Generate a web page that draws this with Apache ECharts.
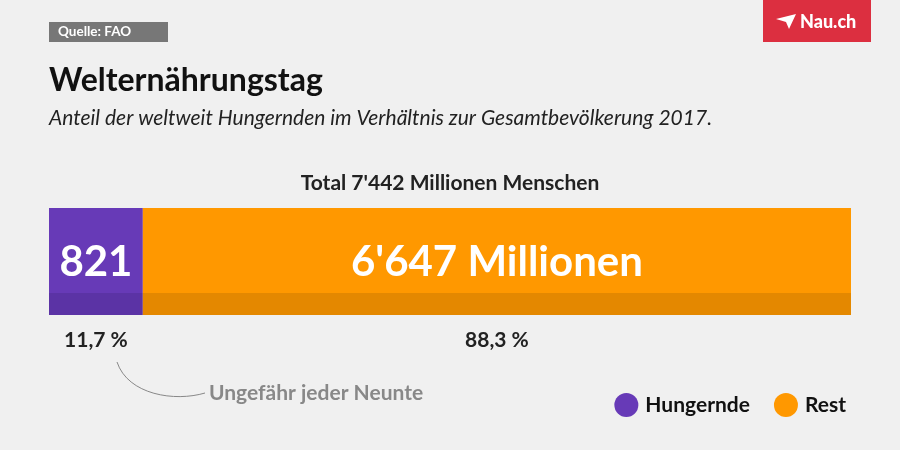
<!DOCTYPE html>
<html><head><meta charset="utf-8">
<script src="https://cdn.jsdelivr.net/npm/echarts@6/dist/echarts.min.js"></script>
<style>html,body{margin:0;padding:0;background:#f0f0f0}#c{width:900px;height:450px}</style>
</head><body><div id="c"></div>
<script>
const categories = ['Welt'];
const seriesNames = ['Hungernde', 'Rest'];
const shares = [11.7, 88.3];
const millions = ['821', "6'647 Millionen"];
const shareLabels = ['11,7 %', '88,3 %'];
const totalLabel = "Total 7'442 Millionen Menschen";
const colors = ['#673ab7', '#ff9800'];
const darkColors = ['#5b33a5', '#e48800'];

const chart = echarts.init(document.getElementById('c'), null, {renderer: 'canvas'});
const FONT = 'Lato';
function grad(i) {
  return new echarts.graphic.LinearGradient(0, 0, 0, 1, [
    {offset: 0, color: colors[i]}, {offset: 0.795, color: colors[i]},
    {offset: 0.795, color: darkColors[i]}, {offset: 1, color: darkColors[i]}
  ]);
}
const option = {
  backgroundColor: '#f0f0f0',
  animation: false,
  textStyle: {fontFamily: FONT},
  grid: {left: 49, right: 49, top: 208, height: 107},
  xAxis: {type: 'value', min: 0, max: 100, show: false},
  yAxis: {type: 'category', data: categories, show: false},
  legend: {
    data: seriesNames.map((n, i) => ({name: n, itemStyle: {color: colors[i]}})),
    right: 49, top: 388, icon: 'circle', itemWidth: 24, itemHeight: 24, itemGap: 24,
    textStyle: {fontFamily: FONT, fontWeight: 'bold', fontSize: 21, color: '#111', padding: [0, 0, 0, 2]}
  },
  series: seriesNames.map((n, i) => ({
    name: n, type: 'bar', stack: 'total', barWidth: 107,
    data: [shares[i]],
    itemStyle: {color: grad(i)},
    label: {show: true, position: 'inside', formatter: () => millions[i],
      fontFamily: FONT, fontWeight: 'bold', fontSize: 42, color: '#fff', offset: [0, 1]}
  })),
  graphic: []
};
chart.setOption(option);

let acc = 0;
const pctTexts = shares.map((v, i) => {
  const x0 = chart.convertToPixel({xAxisIndex: 0}, acc);
  const x1 = chart.convertToPixel({xAxisIndex: 0}, acc + v);
  acc += v;
  return {type: 'text', x: (x0 + x1) / 2, y: 340,
    style: {text: shareLabels[i], fill: '#222', font: 'bold 21px Lato', textAlign: 'center', textVerticalAlign: 'middle'}};
});

chart.setOption({graphic: [
  {type: 'rect', shape: {x: 49, y: 22, width: 119, height: 20}, style: {fill: '#777'}},
  {type: 'text', x: 58, y: 32, style: {text: 'Quelle: FAO', fill: '#fff', font: 'bold 13.5px Lato', textVerticalAlign: 'middle'}},
  {type: 'rect', shape: {x: 763, y: 0, width: 108, height: 42}, style: {fill: '#dc2f40'}},
  {type: 'polygon', shape: {points: [[776, 19], [796, 14], [789, 29], [786, 22]]}, style: {fill: '#fff'}},
  {type: 'text', x: 800, y: 22, style: {text: 'Nau.ch', fill: '#fff', font: '900 18px Lato', textVerticalAlign: 'middle'}},
  {type: 'text', x: 49, y: 81, style: {text: 'Welternährungstag', fill: '#111', font: 'bold 32px Lato', textVerticalAlign: 'middle'}},
  {type: 'text', x: 49, y: 118, style: {text: 'Anteil der weltweit Hungernden im Verhältnis zur Gesamtbevölkerung 2017.', fill: '#222', font: 'italic 21px Lato', textVerticalAlign: 'middle'}},
  {type: 'text', x: 450, y: 183, style: {text: totalLabel, fill: '#222', font: 'bold 21px Lato', textAlign: 'center', textVerticalAlign: 'middle'}},
  ...pctTexts,
  {type: 'bezierCurve', shape: {x1: 117, y1: 362, cpx1: 128, cpy1: 395, cpx2: 175, cpy2: 402, x2: 205, y2: 393},
    style: {stroke: '#888', lineWidth: 1, fill: null}},
  {type: 'text', x: 209, y: 393, style: {text: 'Ungefähr jeder Neunte', fill: '#888', font: 'bold 21px Lato', textVerticalAlign: 'middle'}}
]});
</script></body></html>
